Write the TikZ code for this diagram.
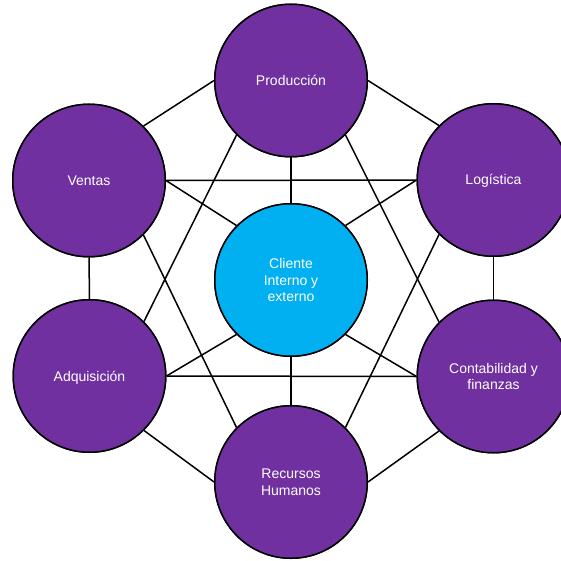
\documentclass[tikz,border=0pt]{standalone}
\usepackage{fontspec}
\setmainfont{Liberation Sans}
\definecolor{areapurple}{HTML}{7030A0}
\definecolor{clientblue}{HTML}{00B0F0}
\begin{document}
\begin{tikzpicture}[x=1pt,y=-1pt,
  disc/.style={circle, draw=black, line width=1.5pt, minimum size=152.5pt,
    inner sep=0pt, align=center, text=white,
    font=\fontsize{14}{16.7}\selectfont},
  area/.style={disc, fill=areapurple},
  oneline/.style={text height=10pt, text depth=0pt},
  hub/.style={disc, fill=clientblue},
  link/.style={draw=black, line width=1.5pt}]
  \useasboundingbox (0,0) rectangle (561,561);
  \clip (0,0) rectangle (561,561);

  % departments around the customer
  \node[area] (prod) at (291,80.5)   {};
  \node[area] (logi) at (493.5,180)  {};
  \node[area] (cont) at (493.5,376.5){};
  \node[area] (rrhh) at (291,482)    {};
  \node[area] (adqu) at (89.5,376)   {};
  \node[area] (vent) at (89,180.5)   {};
  \node[hub]  (clie) at (291,280)    {};

  % outer ring
  \draw[link] (prod.west) -- (vent.north east);
  \draw[link] (prod.east) -- (logi.north west);
  \draw[link] (logi.south) -- (cont.north);
  \draw[link] (vent.south) -- (adqu.north);
  \draw[link] (adqu.south east) -- (rrhh.west);
  \draw[link] (cont.south west) -- (rrhh.east);

  % cross links
  \draw[link] (vent.east) -- (logi.west);
  \draw[link] (adqu.east) -- (cont.west);
  \draw[link] (prod.south west) -- (adqu.north east);
  \draw[link] (prod.south east) -- (cont.north west);
  \draw[link] (vent.south east) -- (rrhh.north west);
  \draw[link] (logi.south west) -- (rrhh.north east);

  % spokes to the customer
  \draw[link] (prod.south) -- (clie.north);
  \draw[link] (rrhh.north) -- (clie.south);
  \draw[link] (vent.east) -- (clie.north west);
  \draw[link] (logi.west) -- (clie.north east);
  \draw[link] (adqu.east) -- (clie.south west);
  \draw[link] (cont.west) -- (clie.south east);

  % discs with their labels, above the line ends
  \node[area, oneline] at (prod) {Producción};
  \node[area, oneline] at (logi) {Logística};
  \node[area] at (cont) {Contabilidad y\\finanzas};
  \node[area] at (rrhh) {Recursos\\Humanos};
  \node[area, oneline] at (adqu) {Adquisición};
  \node[area, oneline] at (vent) {Ventas};
  \node[hub]  at (clie) {Cliente\\Interno y\\externo};
\end{tikzpicture}
\end{document}
